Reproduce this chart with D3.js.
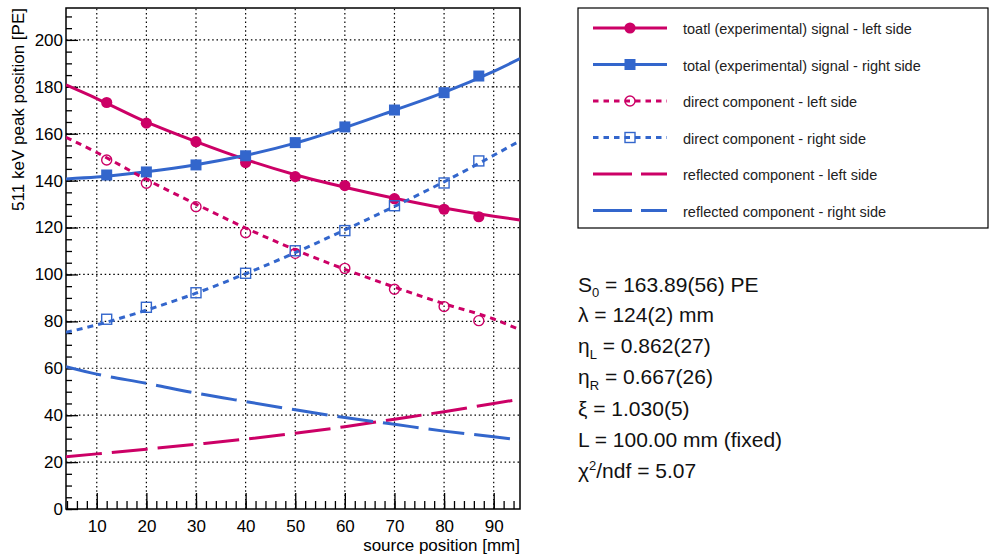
<!DOCTYPE html>
<html>
<head>
<meta charset="utf-8">
<script src="https://cdn.jsdelivr.net/npm/d3@7"></script>
<style>
  body { margin: 0; background: #fff; }
  svg { font-family: 'Liberation Sans', Arial, Helvetica, sans-serif; }
</style>
</head>
<body>
<div id="app"></div>
<script>
// measured points (source position in mm)
const pointX = [12, 20, 30, 40, 50, 60, 70, 80, 87]
const totalLeft = [173.3, 164.5, 156.6, 147.7, 141.7, 137.9, 132.3, 127.8, 124.6]
const totalRight = [142.4, 143.7, 146.7, 150.6, 156.2, 162.9, 170.1, 177.5, 184.6]
const directLeft = [148.8, 138.9, 128.9, 117.8, 109.0, 102.6, 93.7, 86.3, 80.3]
const directRight = [80.9, 86.0, 92.2, 100.5, 110.1, 118.7, 129.3, 139.0, 148.4]

// fitted curves
const curveX = [3.8, 10, 20, 30, 40, 50, 60, 70, 80, 90, 95.3]
const fitTotalLeft = [180.8, 175.0, 165.0, 156.6, 149.0, 142.5, 137.2, 132.5, 128.3, 124.8, 123.2]
const fitTotalRight = [140.7, 141.5, 143.8, 146.8, 150.8, 156.0, 162.6, 170.0, 177.6, 186.6, 192.0]
const fitDirectLeft = [158.5, 152.0, 140.5, 130.0, 119.8, 110.5, 102.2, 94.6, 87.5, 81.0, 76.4]
const fitDirectRight = [75.3, 78.5, 84.8, 92.0, 100.3, 109.3, 119.0, 129.0, 139.5, 150.8, 157.0]
const fitReflLeft = [22.3, 23.5, 25.5, 27.6, 29.8, 32.3, 35.1, 38.3, 41.5, 45.0, 46.8]
const fitReflRight = [60.7, 57.5, 53.6, 49.4, 45.8, 42.3, 39.0, 36.1, 33.2, 30.8, 29.4]

const legendLabels = [
	'toatl (experimental) signal - left side',
	'total (experimental) signal - right side',
	'direct component - left side',
	'direct component - right side',
	'reflected component - left side',
	'reflected component - right side',
]

const red = '#cc0066'
const blue = '#3366cc'

const width = 989
const height = 555
const plot = { left: 66, right: 520, top: 8, bottom: 509 }

const svg = d3.select('#app').append('svg')
	.attr('width', width)
	.attr('height', height)

svg.append('rect').attr('width', width).attr('height', height).attr('fill', '#fff')

const x = d3.scaleLinear().domain([3.8, 95.3]).range([plot.left, plot.right])
const y = d3.scaleLinear().domain([0, 213.6]).range([plot.bottom, plot.top])

// grid
const grid = svg.append('g')
	.attr('stroke', '#000')
	.attr('stroke-width', 1.2)
	.attr('stroke-dasharray', '1.5,2.8')
grid.selectAll('line.gx')
	.data(d3.range(10, 91, 10))
	.enter().append('line')
	.attr('x1', (d) => x(d)).attr('x2', (d) => x(d))
	.attr('y1', plot.bottom).attr('y2', plot.top)
grid.selectAll('line.gy')
	.data(d3.range(20, 201, 20))
	.enter().append('line')
	.attr('y1', (d) => y(d)).attr('y2', (d) => y(d))
	.attr('x1', plot.left).attr('x2', plot.right)

// axes
const yMinor = svg.append('g')
	.attr('transform', `translate(${plot.left},0)`)
	.call(d3.axisLeft(y).tickValues(d3.range(0, 214, 5)).tickSize(-6).tickFormat(''))
const yMajor = svg.append('g')
	.attr('transform', `translate(${plot.left},0)`)
	.call(d3.axisLeft(y).tickValues(d3.range(0, 201, 20)).tickSize(-12).tickPadding(3))
const xMinor = svg.append('g')
	.attr('transform', `translate(0,${plot.bottom})`)
	.call(d3.axisBottom(x).tickValues(d3.range(4, 96, 2)).tickSize(-8).tickFormat(''))
const xMajor = svg.append('g')
	.attr('transform', `translate(0,${plot.bottom})`)
	.call(d3.axisBottom(x).tickValues(d3.range(10, 91, 10)).tickSize(-16).tickPadding(11))

svg.selectAll('.domain').remove()
svg.selectAll('.tick line').attr('stroke', '#000').attr('stroke-width', 1.3)
svg.selectAll('.tick text').attr('font-size', 17).attr('fill', '#000')
	.attr('font-family', "'Liberation Sans', Arial, sans-serif")

// frame
svg.append('rect')
	.attr('x', plot.left).attr('y', plot.top)
	.attr('width', plot.right - plot.left).attr('height', plot.bottom - plot.top)
	.attr('fill', 'none').attr('stroke', '#000').attr('stroke-width', 1.5)

// curves
const line = d3.line()
	.x((d) => x(d[0]))
	.y((d) => y(d[1]))
	.curve(d3.curveMonotoneX)

const curves = [
	{ data: fitTotalLeft, color: red, dash: null },
	{ data: fitTotalRight, color: blue, dash: null },
	{ data: fitDirectLeft, color: red, dash: '6,5' },
	{ data: fitDirectRight, color: blue, dash: '6,5' },
	{ data: fitReflLeft, color: red, dash: '36,10' },
	{ data: fitReflRight, color: blue, dash: '36,10' },
]

const clip = svg.append('clipPath').attr('id', 'clip')
	.append('rect')
	.attr('x', plot.left).attr('y', plot.top)
	.attr('width', plot.right - plot.left).attr('height', plot.bottom - plot.top)

svg.append('g').attr('clip-path', 'url(#clip)')
	.selectAll('path')
	.data(curves)
	.enter().append('path')
	.attr('d', (c) => line(curveX.map((v, i) => [v, c.data[i]])))
	.attr('fill', 'none')
	.attr('stroke', (c) => c.color)
	.attr('stroke-width', 3)
	.attr('stroke-dasharray', (c) => c.dash)

// markers
function drawMarker(g, type, cx, cy, color) {
	if (type === 'circle' || type === 'ocircle') {
		g.append('circle')
			.attr('cx', cx).attr('cy', cy)
			.attr('r', type === 'circle' ? 5.6 : 5)
			.attr('fill', type === 'circle' ? color : 'none')
			.attr('stroke', color)
			.attr('stroke-width', type === 'circle' ? 0 : 1.4)
	} else {
		const s = type === 'square' ? 11 : 10
		g.append('rect')
			.attr('x', cx - s / 2).attr('y', cy - s / 2)
			.attr('width', s).attr('height', s)
			.attr('fill', type === 'square' ? color : 'none')
			.attr('stroke', color)
			.attr('stroke-width', type === 'square' ? 0 : 1.4)
	}
}

const series = [
	{ data: totalLeft, type: 'circle', color: red },
	{ data: totalRight, type: 'square', color: blue },
	{ data: directLeft, type: 'ocircle', color: red },
	{ data: directRight, type: 'osquare', color: blue },
]
const markers = svg.append('g')
series.forEach((s) => {
	s.data.forEach((v, i) => drawMarker(markers, s.type, x(pointX[i]), y(v), s.color))
})

// axis titles
svg.append('text')
	.attr('transform', 'translate(24,8) rotate(-90)')
	.attr('text-anchor', 'end')
	.attr('font-size', 17)
	.text('511 keV peak position [PE]')

svg.append('text')
	.attr('x', plot.right).attr('y', 551)
	.attr('text-anchor', 'end')
	.attr('font-size', 17)
	.text('source position [mm]')

// legend
const legend = svg.append('g')
legend.append('rect')
	.attr('x', 578).attr('y', 8)
	.attr('width', 410).attr('height', 220)
	.attr('fill', '#fff').attr('stroke', '#000').attr('stroke-width', 1.2)

const legendTypes = ['circle', 'square', 'ocircle', 'osquare', null, null]
legendLabels.forEach((label, i) => {
	const ly = 28 + i * 36.5
	const c = curves[i]
	legend.append('line')
		.attr('x1', 593).attr('x2', 667)
		.attr('y1', ly).attr('y2', ly)
		.attr('stroke', c.color).attr('stroke-width', 3)
		.attr('stroke-dasharray', c.dash ? (i < 4 ? '5.5,5' : '39,9') : null)
	if (legendTypes[i]) drawMarker(legend, legendTypes[i], 630, ly, c.color)
	legend.append('text')
		.attr('x', 683).attr('y', ly + 6)
		.attr('font-size', 14.5)
		.attr('fill', '#222')
		.text(label)
})

// fit results
const stats = svg.append('g').attr('font-size', 21).attr('fill', '#111')
const statY = [292, 322, 353, 384, 416, 447, 478]

let t = stats.append('text').attr('x', 578).attr('y', statY[0])
t.append('tspan').text('S')
t.append('tspan').attr('font-size', 13).attr('dy', 5).text('0')
t.append('tspan').attr('dy', -5).text(' = 163.89(56) PE')

stats.append('text').attr('x', 578).attr('y', statY[1]).text('λ = 124(2) mm')

t = stats.append('text').attr('x', 578).attr('y', statY[2])
t.append('tspan').text('η')
t.append('tspan').attr('font-size', 13).attr('dy', 6).text('L')
t.append('tspan').attr('dy', -6).text(' = 0.862(27)')

t = stats.append('text').attr('x', 578).attr('y', statY[3])
t.append('tspan').text('η')
t.append('tspan').attr('font-size', 13).attr('dy', 6).text('R')
t.append('tspan').attr('dy', -6).text(' = 0.667(26)')

stats.append('text').attr('x', 578).attr('y', statY[4]).text('ξ = 1.030(5)')
stats.append('text').attr('x', 578).attr('y', statY[5]).text('L = 100.00 mm (fixed)')

t = stats.append('text').attr('x', 578).attr('y', statY[6])
t.append('tspan').text('χ')
t.append('tspan').attr('font-size', 13).attr('dy', -8).text('2')
t.append('tspan').attr('dy', 8).text('/ndf = 5.07')
</script>
</body>
</html>
